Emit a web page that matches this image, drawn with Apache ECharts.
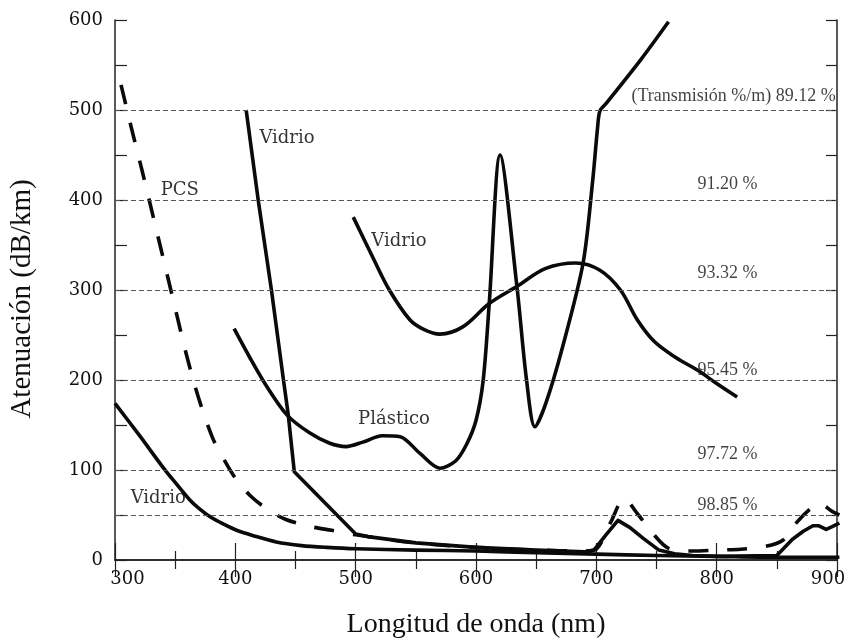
<!DOCTYPE html>
<html>
<head>
<meta charset="utf-8">
<script src="https://cdn.jsdelivr.net/npm/echarts@6/dist/echarts.min.js"></script>
<style>
html,body{margin:0;padding:0;background:#fff;}
#chart{width:848px;height:638px;}
</style>
</head>
<body>
<div id="chart"></div>
<script>
// ---- data (wavelength nm, attenuation dB/km) ----
const pcs = [[305,528],[314,478],[323,430],[332,380],[341,330],[350,280],[359,230],[369,182],[381,136],[390,113],[400,91],[412,72],[427,56],[442,45],[463,37],[480,33],[500,28],[550,19],[600,14],[650,11],[690,10],[700,12],[712,42],[723,68],[735,50],[746,31],[760,13],[780,10],[800,11],[820,12],[840,15],[855,22],[866,41],[877,56],[885,63],[896,54],[902,50]];
const vidrioSteep = [[409,500],[414,450],[419,400],[424.5,350],[430,300],[435,250],[440,200],[444,161],[449,98],[500,29],[510,26],[550,19],[600,14],[650,11],[690,9],[698,11],[708,28],[718,44],[728,36],[739,24],[752,11],[765,7],[780,5],[800,4],[850,5],[863,23],[872,32],[880,38],[885,38],[891,34],[896,37],[902,41]];
const vidrioLow = [[300,174],[320,139],[341,101],[352,83],[362,67],[370,57],[379,48],[390,40],[401,33],[415,27],[434,20],[455,16],[476,14],[500,12.5],[550,11],[600,10],[650,8],[700,6.5],[750,5],[800,4],[850,3],[902,3]];
const plastico = [[399,257],[412,225],[426,193],[443,161],[462,141],[478,130],[492,126],[506,131],[522,138],[537,137],[553,119],[570,102],[583,110],[592,128],[600,155],[606,200],[611,285],[620,450],[634,304],[642,200],[649,148],[658,174],[672,237],[689,330],[697,422],[701,480],[703,499],[708,507],[737,556],[760,598]];
const vidrioMid = [[498,381],[514,337],[528,300],[545,267],[557,256],[570,251],[589,259],[611,285],[634,304],[658,324],[683,330],[703,322],[720,300],[734,267],[748,243],[766,225],[784,211],[800,196],[817,181]];

// transmission reference levels
const transmissionLevels = [500,400,300,200,100,50];
const transmissionText = ['(Transmisión %/m) 89.12 %','91.20 %','93.32 %','95.45 %','97.72 %','98.85 %'];

// curve annotations
const curveNames = ['Vidrio','PCS','Vidrio','Plástico','Vidrio'];
const curveNameAnchors = [[420,469],[338,411],[513,354],[502,156],[313,69]];
const transmissionAnchorsX = [899,809,809,809,809,809];
const transmissionAnchorsY = [515,417,319,211,117,61];

const chart = echarts.init(document.getElementById('chart'), null, {renderer:'canvas'});
const serif = 'DejaVu Serif';
const times = 'Liberation Serif';
const lineColor = '#0a0a0a';

function curve(name, data, dashed, smooth){
  return {
    name, type:'line', data, showSymbol:false, symbol:'none', smooth:smooth,
    lineStyle:{color:lineColor, width:3.6, type: dashed ? [20,19] : 'solid', cap:'butt', join:'round'},
    z:3, animation:false
  };
}

const axisCol = '#222';
const option = {
  animation:false,
  backgroundColor:'#fff',
  grid:{left:115, top:20, right:11, bottom:78, containLabel:false, outerBoundsMode:'none'},
  xAxis:[
    {type:'value', min:300, max:900, interval:100, position:'bottom',
     axisLine:{show:true, lineStyle:{color:axisCol, width:1.5}},
     axisTick:{show:true, inside:true, length:17, lineStyle:{color:axisCol, width:1.2}},
     minorTick:{show:true, splitNumber:2, length:9, lineStyle:{color:axisCol, width:1.2}},
     splitLine:{show:false},
     axisLabel:{fontFamily:serif, fontSize:18, color:'#111', margin:10,
       formatter:v => v === 300 ? '{l|300}' : (v === 900 ? '{r|900}' : String(v)),
       rich:{
         l:{fontFamily:serif, fontSize:18, color:'#111', padding:[0,0,0,25]},
         r:{fontFamily:serif, fontSize:18, color:'#111', padding:[0,18,0,0]}
       }},
     name:'Longitud de onda (nm)', nameLocation:'middle', nameGap:51,
     nameTextStyle:{fontFamily:times, fontSize:28, color:'#111'}
    },
    {type:'value', min:300, max:900, interval:100, position:'top',
     axisLine:{show:true, lineStyle:{color:axisCol, width:1.5}},
     axisTick:{show:true, inside:true, length:17, lineStyle:{color:axisCol, width:1.2}},
     minorTick:{show:true, splitNumber:2, length:9, lineStyle:{color:axisCol, width:1.2}},
     splitLine:{show:false}, axisLabel:{show:false}
    }
  ],
  yAxis:[
    {type:'value', min:0, max:600, interval:50, position:'left',
     axisLine:{show:true, lineStyle:{color:axisCol, width:1.5}},
     axisTick:{show:true, inside:true, length:12, lineStyle:{color:axisCol, width:1.2}},
     splitLine:{show:false},
     axisLabel:{fontFamily:serif, fontSize:18, color:'#111', margin:12,
       formatter:v => (v % 100 === 0 ? String(v) : '')},
     name:'Atenuación (dB/km)', nameLocation:'middle', nameGap:78,
     nameTextStyle:{fontFamily:times, fontSize:29, color:'#111', padding:[0,18,0,0]}
    },
    {type:'value', min:0, max:600, interval:50, position:'right',
     axisLine:{show:true, lineStyle:{color:axisCol, width:1.5}},
     axisTick:{show:true, inside:true, length:11, lineStyle:{color:axisCol, width:1.2}},
     splitLine:{show:false}, axisLabel:{show:false}
    }
  ],
  series:[
    {
      name:'grid', type:'line', data:[], silent:true,
      markLine:{
        silent:true, symbol:'none', animation:false,
        label:{show:false},
        lineStyle:{color:'#555', width:1, type:[5,3]},
        data: transmissionLevels.map(v => ({yAxis:v}))
      }
    },
    curve('Vidrio bajo', vidrioLow, false, 0.3),
    curve('PCS', pcs, true, 0.3),
    curve('Vidrio', vidrioSteep, false, false),
    curve('Plástico', plastico, false, 0.3),
    curve('Vidrio medio', vidrioMid, false, 0.35),
    {
      name:'curve labels', type:'scatter', symbolSize:0, silent:true, z:5,
      data: curveNames.map((n,i) => ({name:n, value:curveNameAnchors[i]})),
      label:{show:true, position:'inside', align:'left', verticalAlign:'middle',
        formatter:p => p.name, fontFamily:serif, fontSize:18, color:'#000'}
    },
    {
      name:'transmission labels', type:'scatter', symbolSize:0, silent:true, z:5,
      data: transmissionText.map((t,i) => ({name:t, value:[transmissionAnchorsX[i], transmissionAnchorsY[i]]})),
      label:{show:true, position:'inside', verticalAlign:'middle',
        align:'center',
        formatter:p => p.name, fontFamily:times, fontSize:18, color:'#111'},
      labelLayout: function(params){
        return params.dataIndex === 0 ? {align:'right'} : {};
      }
    }
  ]
};
chart.setOption(option);
</script>
</body>
</html>
